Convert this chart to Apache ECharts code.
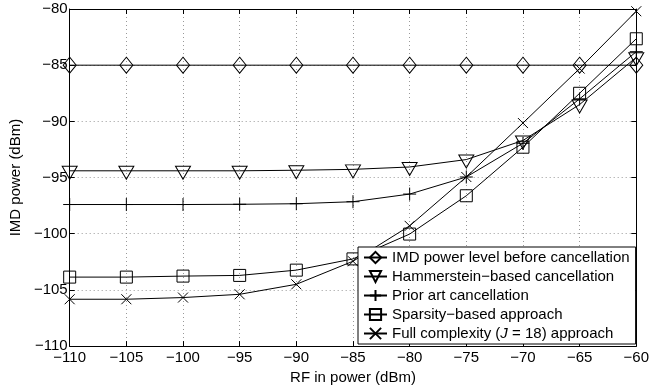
<!DOCTYPE html>
<html>
<head>
<meta charset="utf-8">
<script src="https://cdn.jsdelivr.net/npm/echarts@6/dist/echarts.min.js"></script>
<style>
  html, body { margin: 0; padding: 0; background: #fff; }
  #chart { width: 652px; height: 390px; }
</style>
</head>
<body>
<div id="chart"></div>
<script>
// ---- data ----
const rfIn = [-110, -105, -100, -95, -90, -85, -80, -75, -70, -65, -60];
const imdBefore   = [-85, -85, -85, -85, -85, -85, -85, -85, -85, -85, -85];
const hammerstein = [-94.4, -94.4, -94.4, -94.4, -94.35, -94.27, -94.06, -93.4, -91.7, -88.5, -84.3];
const priorArt    = [-97.4, -97.4, -97.4, -97.38, -97.33, -97.15, -96.47, -94.95, -91.95, -88.0, -83.8];
const sparsity    = [-103.86, -103.86, -103.77, -103.71, -103.24, -102.24, -100.03, -96.62, -92.3, -87.5, -82.65];
const fullComp    = [-105.83, -105.83, -105.68, -105.39, -104.5, -102.45, -99.3, -94.95, -90.15, -85.3, -80.2];

const seriesNames = [
  'IMD power level before cancellation',
  'Hammerstein\u2212based cancellation',
  'Prior art cancellation',
  'Sparsity\u2212based approach',
  'Full complexity ({i|J} = 18) approach'
];
const xAxisName = 'RF in power (dBm)';
const yAxisName = 'IMD power (dBm)';

const FONT = '"Liberation Sans", Arial, Helvetica, sans-serif';
const minus = v => String(v).replace('-', '\u2212');

function pairs(ys) { return rfIn.map((x, i) => [x, ys[i]]); }

const markerStyle = { color: 'rgba(255,255,255,0)', borderColor: '#000', borderWidth: 1 };

function mk(name, ys, symbol, size, offset) {
  return {
    name: name,
    type: 'line',
    data: pairs(ys),
    symbol: symbol,
    symbolSize: size,
    symbolOffset: offset || [0, 0],
    showAllSymbol: true,
    clip: false,
    lineStyle: { color: '#000', width: 1 },
    itemStyle: markerStyle,
    emphasis: { disabled: true },
    animation: false
  };
}

const chart = echarts.init(document.getElementById('chart'), null, { renderer: 'canvas' });

const commonTick = { show: true, inside: true, length: 5, lineStyle: { color: '#000', width: 1 } };

chart.setOption({
  backgroundColor: '#fff',
  animation: false,
  textStyle: { fontFamily: FONT },
  grid: { left: 54, right: 7, top: 9, bottom: 41, containLabel: false },
  xAxis: [{
    type: 'value', min: -110, max: -60, interval: 5,
    position: 'bottom',
    name: xAxisName, nameLocation: 'middle', nameGap: 16,
    nameTextStyle: { fontSize: 15, color: '#000', fontFamily: FONT },
    axisLine: { show: true, onZero: false, lineStyle: { color: '#000', width: 1 } },
    axisTick: commonTick,
    axisLabel: { fontSize: 15, color: '#000', margin: 4, formatter: minus, fontFamily: FONT },
    splitLine: { show: true, lineStyle: { color: '#999', width: 1, type: [1, 3] } }
  }, {
    type: 'value', min: -110, max: -60, interval: 5,
    position: 'top',
    axisLine: { show: true, onZero: false, lineStyle: { color: '#000', width: 1 } },
    axisTick: commonTick,
    axisLabel: { show: false },
    splitLine: { show: false }
  }],
  yAxis: [{
    type: 'value', min: -110, max: -80, interval: 5,
    position: 'left',
    name: yAxisName, nameLocation: 'middle', nameGap: 34, nameRotate: 90,
    nameTextStyle: { fontSize: 15, color: '#000', fontFamily: FONT },
    axisLine: { show: true, onZero: false, lineStyle: { color: '#000', width: 1 } },
    axisTick: commonTick,
    axisLabel: { fontSize: 15, color: '#000', margin: 2, formatter: minus, fontFamily: FONT },
    splitLine: { show: true, lineStyle: { color: '#999', width: 1, type: [1, 3] } }
  }, {
    type: 'value', min: -110, max: -80, interval: 5,
    position: 'right',
    axisLine: { show: true, onZero: false, lineStyle: { color: '#000', width: 1 } },
    axisTick: commonTick,
    axisLabel: { show: false },
    splitLine: { show: false }
  }],
  legend: {
    orient: 'vertical',
    left: 358, top: 247,
    padding: [3, 6, 3, 5],
    itemGap: 4,
    itemWidth: 23, itemHeight: 14,
    backgroundColor: '#fff',
    borderColor: '#000', borderWidth: 1,
    textStyle: {
      fontSize: 15, color: '#000', fontFamily: FONT,
      rich: { i: { fontSize: 15, fontStyle: 'italic', color: '#000', fontFamily: FONT } }
    },
    data: seriesNames,
    selectedMode: false
  },
  series: [
    mk(seriesNames[0], imdBefore, 'diamond', [13, 16]),
    mk(seriesNames[1], hammerstein, 'path://M0,0L10,0L5,9Z', [15, 13], [0, 2]),
    mk(seriesNames[2], priorArt, 'path://M0,5L10,5M5,0L5,10', [13, 13]),
    mk(seriesNames[3], sparsity, 'rect', [12, 12]),
    mk(seriesNames[4], fullComp, 'path://M0,0L10,10M10,0L0,10', [10, 10])
  ]
});
</script>
</body>
</html>
